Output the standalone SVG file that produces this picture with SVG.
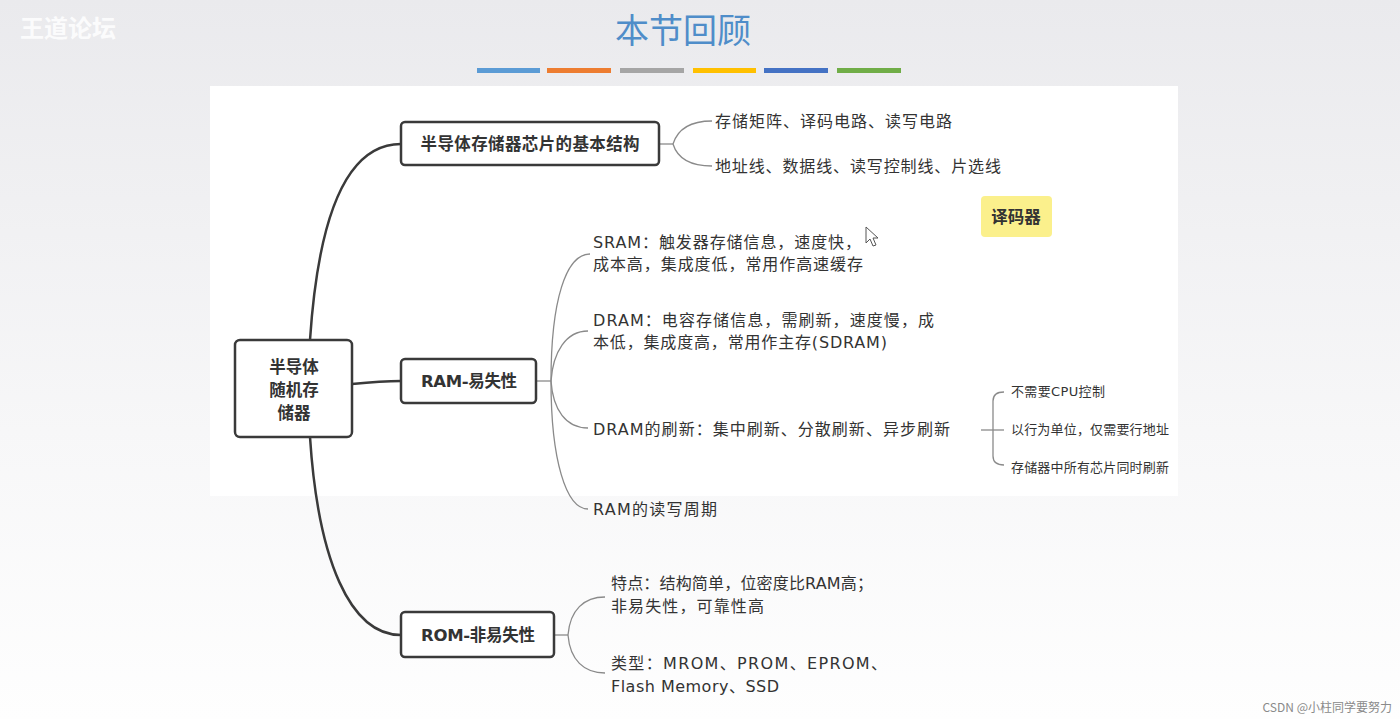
<svg xmlns="http://www.w3.org/2000/svg" width="1400" height="719" viewBox="0 0 1400 719">
<defs>
<linearGradient id="bg" x1="0" y1="0" x2="0" y2="1">
<stop offset="0" stop-color="#eaeaed"/>
<stop offset="0.6" stop-color="#f7f7f8"/>
<stop offset="1" stop-color="#fefefe"/>
</linearGradient>
<style>
.box{fill:#fff;stroke:#3a3a3a;stroke-width:2.5}
.main{fill:none;stroke:#3a3a3a;stroke-width:2.5}
.sub{fill:none;stroke:#8a8a8a;stroke-width:1.3}
.t{font-family:"DejaVu Sans","Noto Sans CJK SC",sans-serif;fill:#333}
.nt{font-size:16.5px;font-weight:bold;text-anchor:middle;dominant-baseline:central}
.lt{font-size:16px;dominant-baseline:central}
.st{font-size:13px;dominant-baseline:central}
</style>
</defs>
<rect width="1400" height="719" fill="url(#bg)"/>
<rect x="210" y="86" width="968" height="410" fill="#fff"/>
<text x="20" y="26" font-family="Noto Sans CJK SC,sans-serif" font-size="24" font-weight="bold" fill="#ffffff" fill-opacity="0.85" dominant-baseline="central">王道论坛</text>
<text x="683" y="28" font-family="Noto Sans CJK SC,sans-serif" font-size="34" fill="#4f8dc9" text-anchor="middle" dominant-baseline="central">本节回顾</text>
<g id="bars">
<rect x="477" y="68" width="63" height="5" fill="#5b9bd5"/>
<rect x="547" y="68" width="64" height="5" fill="#ed7d31"/>
<rect x="620" y="68" width="64" height="5" fill="#a5a5a5"/>
<rect x="693" y="68" width="63" height="5" fill="#ffc000"/>
<rect x="764" y="68" width="64" height="5" fill="#4472c4"/>
<rect x="837" y="68" width="64" height="5" fill="#70ad47"/>
</g>
<g id="connectors">
<path class="main" d="M310,340 C318,220 345,144 401,144"/>
<path class="main" d="M352,384 C372,382 382,381 401,381"/>
<path class="main" d="M310,437 C318,560 350,635 401,635"/>
<path class="sub" d="M659,144 H673"/>
<path class="sub" d="M673,144 C678,128 692,121 712,121"/>
<path class="sub" d="M673,144 C678,160 692,166 712,166"/>
<path class="sub" d="M536,381 H551"/>
<path class="sub" d="M551,381 C551,300 566,254 590,254"/>
<path class="sub" d="M551,381 C553,352 566,331 588,331"/>
<path class="sub" d="M551,381 C553,410 566,428 588,428"/>
<path class="sub" d="M551,381 C551,460 566,509 588,509"/>
<path class="sub" d="M981,430 H1004"/>
<path class="sub" d="M1004,392 C997,392 993,395 993,401 V456 C993,462 997,465 1004,465"/>
<path class="sub" d="M554,635 H568"/>
<path class="sub" d="M568,635 C570,610 584,597 605,597"/>
<path class="sub" d="M568,635 C570,660 584,673 605,673"/>
</g>
<g id="root">
<rect class="box" x="235" y="340" width="117" height="97" rx="5"/>
<text class="t nt" x="294" y="367" font-size="16">半导体</text>
<text class="t nt" x="294" y="390" font-size="16">随机存</text>
<text class="t nt" x="294" y="413" font-size="16">储器</text>
</g>
<g id="n-structure">
<rect class="box" x="401" y="122" width="258" height="43" rx="4"/>
<text class="t nt" x="530" y="144" textLength="219">半导体存储器芯片的基本结构</text>
</g>
<g id="n-ram">
<rect class="box" x="401" y="359" width="135" height="44" rx="4"/>
<text class="t nt" x="469" y="381" textLength="96">RAM-易失性</text>
</g>
<g id="n-rom">
<rect class="box" x="401" y="612" width="153" height="45" rx="4"/>
<text class="t nt" x="478" y="635" textLength="114">ROM-非易失性</text>
</g>
<g id="structure-items">
<text class="t lt" x="715" y="121" textLength="237">存储矩阵、译码电路、读写电路</text>
<text class="t lt" x="715" y="166" textLength="286">地址线、数据线、读写控制线、片选线</text>
</g>
<g id="ram-items">
<text class="t lt" x="593" y="242" textLength="268">SRAM：触发器存储信息，速度快，</text>
<text class="t lt" x="593" y="264" textLength="270">成本高，集成度低，常用作高速缓存</text>
<text class="t lt" x="593" y="320" textLength="341">DRAM：电容存储信息，需刷新，速度慢，成</text>
<text class="t lt" x="593" y="342" textLength="294">本低，集成度高，常用作主存(SDRAM)</text>
<text class="t lt" x="593" y="429" textLength="357">DRAM的刷新：集中刷新、分散刷新、异步刷新</text>
<text class="t lt" x="593" y="509" textLength="124">RAM的读写周期</text>
</g>
<g id="refresh-items">
<text class="t st" x="1011" y="391" textLength="94">不需要CPU控制</text>
<text class="t st" x="1011" y="429" textLength="158">以行为单位，仅需要行地址</text>
<text class="t st" x="1011" y="467" textLength="158">存储器中所有芯片同时刷新</text>
</g>
<g id="rom-items">
<text class="t lt" x="611" y="583" textLength="262">特点：结构简单，位密度比RAM高；</text>
<text class="t lt" x="611" y="606" textLength="153">非易失性，可靠性高</text>
<text class="t lt" x="611" y="663" textLength="276">类型：MROM、PROM、EPROM、</text>
<text class="t lt" x="611" y="686" textLength="168">Flash Memory、SSD</text>
</g>
<g id="note">
<rect x="981" y="196" width="71" height="41" rx="4" fill="#fbf08c"/>
<text class="t nt" x="1016" y="217" font-size="16">译码器</text>
</g>
<path d="M866,227 V243 L870,239 L873,246 L876,245 L873,238 L878,238 Z" fill="#fff" stroke="#555" stroke-width="1"/>
<text x="1392" y="706" font-family="Noto Sans CJK SC,sans-serif" font-size="12" fill="#8a8a8a" text-anchor="end" dominant-baseline="central">CSDN @小柱同学要努力</text>
</svg>
